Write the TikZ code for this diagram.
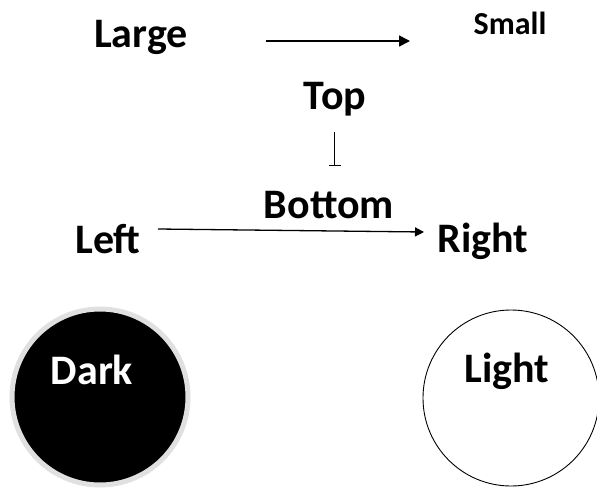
\documentclass[tikz,border=0pt]{standalone}
\usepackage{fontspec}
\setmainfont{Carlito}
\usetikzlibrary{arrows.meta}
\begin{document}
\begin{tikzpicture}[x=1pt,y=-1pt,
  word/.style={inner sep=0pt,anchor=base,font=\fontsize{42}{42}\selectfont\bfseries},
  smallword/.style={word,font=\fontsize{32}{32}\selectfont\bfseries},
  link/.style={line width=1.6pt,-{Triangle[length=11pt,width=11pt]}},
  thinlink/.style={line width=1.3pt,-{Triangle[length=9pt,width=9pt]}}]
\useasboundingbox (0,0) rectangle (597,490);
% size row
\node[word] (large) at (141,47) {Large};
\node[smallword] (small) at (510,34) {Small};
\coordinate (ls) at (266,41);
\coordinate (le) at (410,41);
\draw[link] (ls) -- (le);
% vertical pair
\node[word] (top) at (335,109) {Top};
\node[word] (bottom) at (329,218) {Bottom};
\coordinate (ts) at (334.5,132);
\coordinate (te) at (334.5,166);
\draw[line width=1.5pt,-{Bar[width=12pt,line width=1.3pt]}] (ts) -- (te);
% horizontal pair
\node[word] (left) at (108,253) {Left};
\node[word] (right) at (483,252) {Right};
\coordinate (hs) at (158,229);
\coordinate (he) at (424,232);
\draw[thinlink] (hs) -- (he);
% shade pair
\node[circle,minimum size=176pt,inner sep=0pt,fill=black,draw=black!12,line width=5pt] (darkc) at (100,397) {};
\node[circle,minimum size=176pt,inner sep=0pt,draw=black,line width=0.9pt] (lightc) at (511,398) {};
\node[word,text=white] (dark) at (92,384) {Dark};
\node[word] (light) at (507,382) {Light};
\end{tikzpicture}
\end{document}
